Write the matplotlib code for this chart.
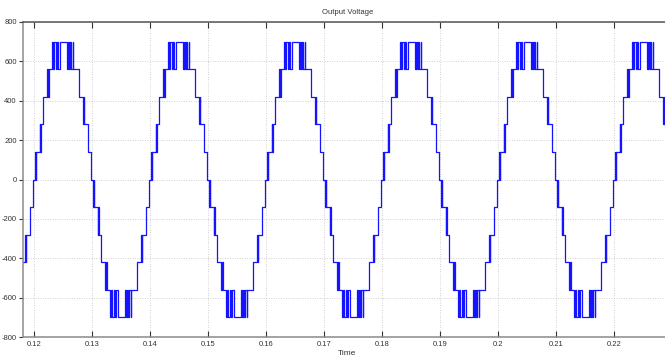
import matplotlib
matplotlib.use("Agg")
import matplotlib.pyplot as plt
import numpy as np
from matplotlib.ticker import FixedLocator, FixedFormatter

# ---- data ----
# one positive half-cycle of the staircase: switching instants (ms after the
# zero crossing) and the level index that starts at that instant
half_t_ms = [0.0, 0.15, 0.3, 0.4, 1.0, 1.1, 1.2, 1.6, 2.25, 2.4, 2.5,
             3.1, 3.3, 3.5, 3.8, 4.0, 4.2, 4.45,
             5.7, 5.85, 6.05, 6.25, 6.45, 6.7, 6.8,
             6.9, 7.75, 8.45, 8.55, 8.65, 9.3, 9.9]
half_level = [0, 1, 0, 1, 2, 1, 2, 3, 4, 3, 4,
              5, 4, 5, 4, 5, 4, 5,
              4, 5, 4, 5, 4, 5, 4,
              4, 3, 2, 3, 2, 1, 0]
level_step = 140          # volts per level
period_ms = 20.0
cycle_starts = [0.10, 0.12, 0.14, 0.16, 0.18, 0.20, 0.22]

x_ticks = [0.12, 0.13, 0.14, 0.15, 0.16, 0.17, 0.18, 0.19, 0.20, 0.21, 0.22]
x_tick_labels = ['0.12', '0.13', '0.14', '0.15', '0.16', '0.17', '0.18',
                 '0.19', '0.2', '0.21', '0.22']
y_ticks = [800, 600, 400, 200, 0, -200, -400, -600, -800]
y_tick_labels = ['800', '600', '400', '200', '0', '-200', '-400', '-600', '-800']

# ---- build the step series ----
t_all, v_all = [], []
for c in cycle_starts:
    for t, l in zip(half_t_ms, half_level):
        t_all.append(c + t / 1000.0)
        v_all.append(l * level_step)
    for t, l in zip(half_t_ms, half_level):
        t_all.append(c + period_ms / 2000.0 + t / 1000.0)
        v_all.append(-l * level_step)
t_all = np.array(t_all)
v_all = np.array(v_all)

fam = ['Liberation Sans Narrow', 'Liberation Sans', 'DejaVu Sans']
plt.rcParams['font.family'] = fam

W, H = 665, 362
fig = plt.figure(figsize=(W / 100, H / 100), dpi=100)
left, right, top, bottom = 23, 672, 22, 337
ax = fig.add_axes([left / W, (H - bottom) / H, (right - left) / W, (bottom - top) / H])

ax.step(t_all, v_all, where='post', color='#1414ff', lw=0.9)

ax.set_xlim(0.1181, 0.23)
ax.set_ylim(-800, 800)
ax.xaxis.set_major_locator(FixedLocator(x_ticks))
ax.xaxis.set_major_formatter(FixedFormatter(x_tick_labels))
ax.yaxis.set_major_locator(FixedLocator(y_ticks))
ax.yaxis.set_major_formatter(FixedFormatter(y_tick_labels))

ax.grid(True, color='#a8a8a8', linestyle=(0, (1, 2.5)), lw=0.5)
ax.tick_params(axis='x', direction='in', length=4, width=0.8, labelsize=5.5,
               colors='#333333', pad=3, top=True)
ax.tick_params(axis='y', direction='out', length=3, width=0.8, labelsize=5.5,
               colors='#333333', pad=1.5)
for s in ax.spines.values():
    s.set_color('#8a8a8a')
    s.set_linewidth(1.1)
ax.spines['top'].set_color('#555555')

ax.set_title('Output Voltage', fontsize=5.5, color='#333333', pad=6)
ax.set_xlabel('Time', fontsize=6, color='#333333', labelpad=1)

fig.savefig('out.png', dpi=100)
